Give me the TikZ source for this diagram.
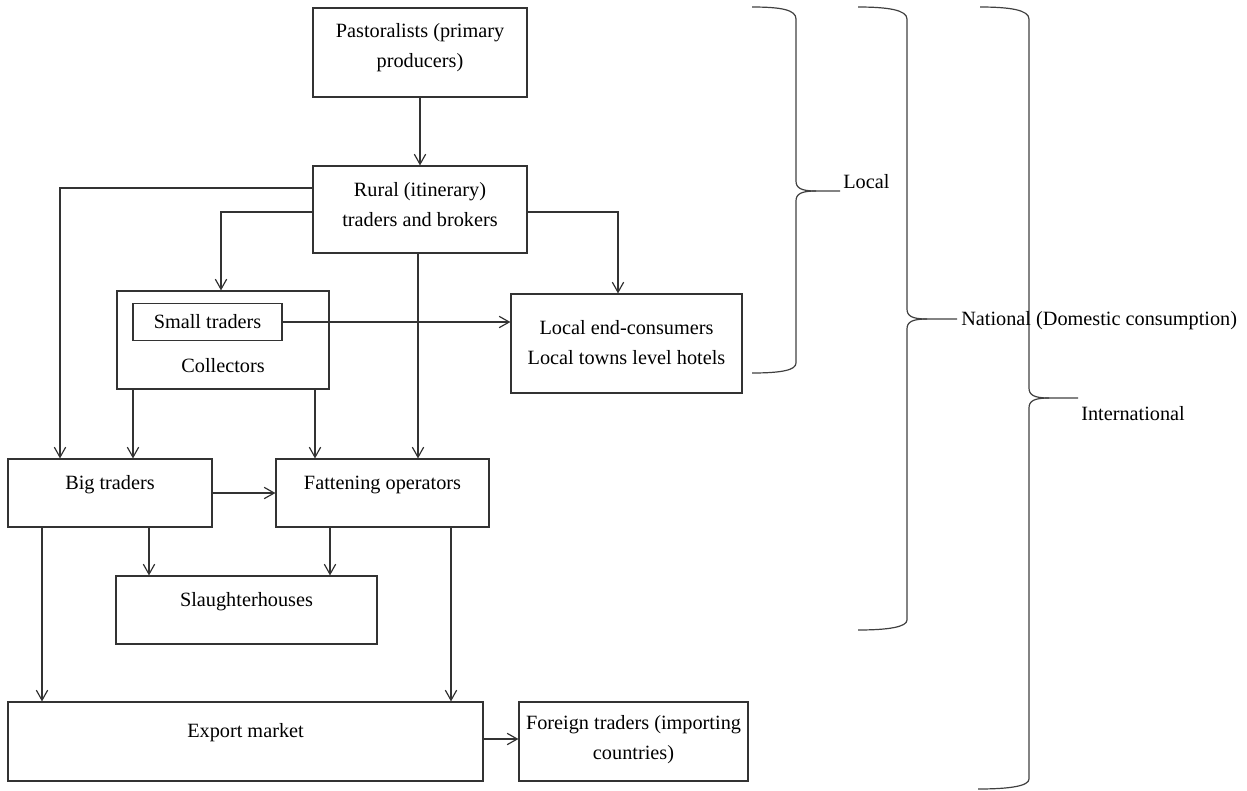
\documentclass[tikz,border=0pt]{standalone}
\usepackage{fontspec}
\setmainfont{Liberation Serif}
\usetikzlibrary{arrows.meta,calc}
\begin{document}
\begin{tikzpicture}[x=0.75pt,y=-0.75pt,
  box/.style 2 args={draw=black!80, line width=0.9pt, minimum width=#1*0.75pt, minimum height=#2*0.75pt, inner sep=0pt},
  txt/.style={font=\fontsize{15.2}{23}\selectfont, align=center, inner sep=0pt, text=black},
  arr/.style={draw=black!80, line width=0.9pt, -{Straight Barb[length=7.5pt,width=8.5pt]}},
  brace/.style={draw=black!75, line width=0.9pt}]
\useasboundingbox (0,0) rectangle (1247,790);
% boxes
\node[box={214}{89}] (past) at (420,52.5) {};
\node[box={214}{87}] (rural) at (420,209.5) {};
\node[box={212}{98}] (coll) at (223,340) {};
\node[box={149}{37}, txt] (small) at (207.5,322) {Small traders};
\node[box={231}{99}] (local) at (626.5,343.5) {};
\node[box={204}{68}] (big) at (110,493) {};
\node[box={213}{68}] (fat) at (382.5,493) {};
\node[box={261}{68}] (slau) at (246.5,610) {};
\node[box={475}{79}] (exp) at (245.5,741.5) {};
\node[box={229}{79}] (for) at (633.5,741.5) {};
% texts
\node[txt] (tpast) at (420,47.5) {Pastoralists (primary\\producers)};
\node[txt] (trural) at (420,204.5) {Rural (itinerary)\\traders and brokers};
\node[txt] (tcoll) at (223,365.5) {Collectors};
\node[txt] (tlocal) at (626.5,342.5) {Local end-consumers\\Local towns level hotels};
\node[txt] (tbig) at (110,485) {Big traders};
\node[txt] (tfat) at (382.5,485) {Fattening operators};
\node[txt] (tslau) at (246.5,602) {Slaughterhouses};
\node[txt] (texp) at (245.5,733) {Export market};
\node[txt] (tfor) at (633.5,739.5) {Foreign traders (importing\\countries)};
% connectors
\draw[arr] (past) -- (rural);
\draw[arr] ($(rural.west)+(0,-21.5)$) -| ($(big.north)+(-50,0)$);
\draw[arr] ($(rural.west)+(0,2.5)$) -| ($(coll.north)+(-2,0)$);
\draw[arr] ($(rural.east)+(0,2.5)$) -| ($(local.north)+(-8.5,0)$);
\coordinate (rs) at ($(rural.south)+(-2,0)$);
\draw[arr] (rs) -- (rs |- fat.north);
\draw[arr] (small.east) -- (small.east -| local.west);
\coordinate (c1) at ($(coll.south)+(-90,0)$);
\draw[arr] (c1) -- (c1 |- big.north);
\coordinate (c2) at ($(coll.south)+(92,0)$);
\draw[arr] (c2) -- (c2 |- fat.north);
\draw[arr] (big.east) -- (fat.west);
\coordinate (b1) at ($(big.south)+(39,0)$);
\draw[arr] (b1) -- (b1 |- slau.north);
\coordinate (f1) at ($(fat.south)+(-52.5,0)$);
\draw[arr] (f1) -- (f1 |- slau.north);
\coordinate (b2) at ($(big.south)+(-68,0)$);
\draw[arr] (b2) -- (b2 |- exp.north);
\coordinate (f2) at ($(fat.south)+(68.5,0)$);
\draw[arr] (f2) -- (f2 |- exp.north);
\coordinate (e1) at ($(exp.east)+(0,-2.5)$);
\draw[arr] (e1) -- (e1 -| for.west);
% braces
\draw[brace] (752,7) .. controls (782,7) and (796,10) .. (796,19) -- (796,181)
  .. controls (796,188) and (801,191) .. (816,191) -- (840,191);
\draw[brace] (816,191) .. controls (801,191) and (796,194) .. (796,201) -- (796,363)
  .. controls (796,370) and (782,373) .. (752,373);
\draw[brace] (858,7) .. controls (888,7) and (907,10) .. (907,19) -- (907,309)
  .. controls (907,316) and (912,319) .. (927,319) -- (957,319);
\draw[brace] (927,319) .. controls (912,319) and (907,322) .. (907,329) -- (907,620)
  .. controls (907,627) and (888,630) .. (858,630);
\draw[brace] (980,7) .. controls (1010,7) and (1029,10) .. (1029,19) -- (1029,388)
  .. controls (1029,395) and (1034,398) .. (1049,398) -- (1078,398);
\draw[brace] (1049,398) .. controls (1034,398) and (1029,401) .. (1029,408) -- (1029,779)
  .. controls (1029,786) and (1010,789) .. (978,789);
\node[txt, anchor=west] (lloc) at (843,182) {Local};
\node[txt, anchor=west] (lnat) at (961,321) {National (Domestic consumption)};
\node[txt, anchor=west] (lint) at (1081,414) {International};
\end{tikzpicture}
\end{document}
